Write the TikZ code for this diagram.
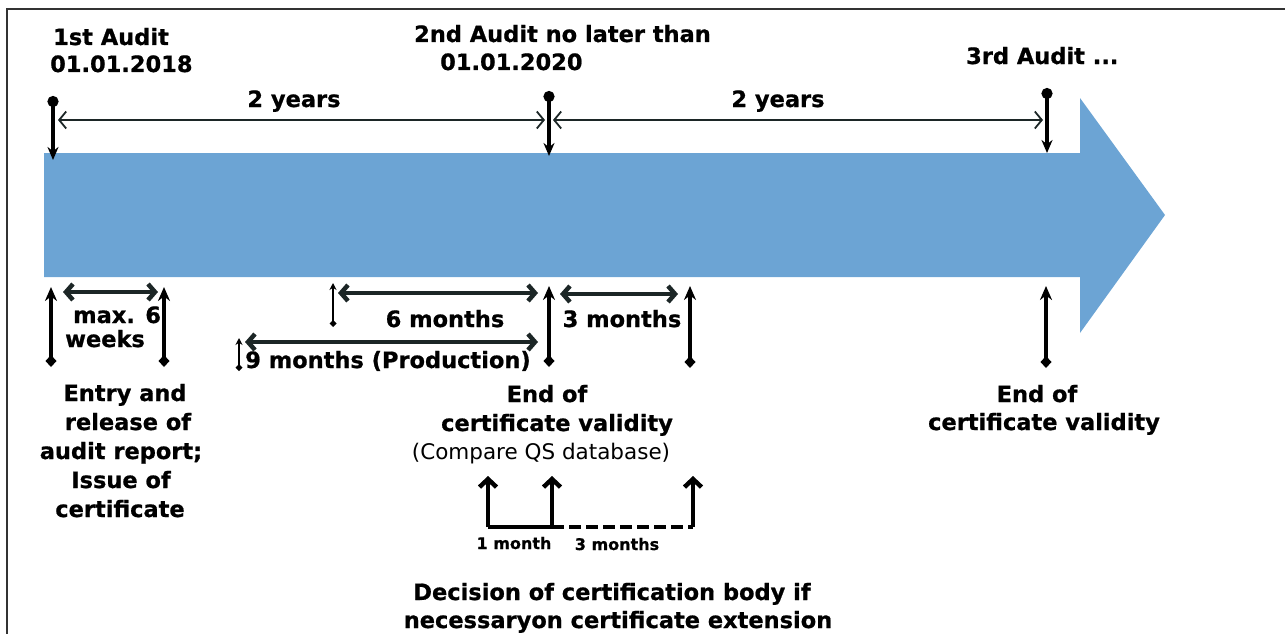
\documentclass[tikz,border=0pt]{standalone}
\usepackage{fontspec}
\setmainfont{DejaVu Sans}[BoldFeatures={FakeBold=0.8}]
\usetikzlibrary{arrows.meta}
\definecolor{bandblue}{RGB}{108,164,212}
\definecolor{darkink}{RGB}{28,38,38}
\begin{document}
\begin{tikzpicture}[x=1pt,y=-1pt,
  lbl/.style={font=\fontsize{22.5}{29}\selectfont\bfseries, inner sep=0pt},
  smalllbl/.style={font=\fontsize{16}{20}\selectfont\bfseries, inner sep=0pt},
  plainlbl/.style={font=\fontsize{21.5}{27}\selectfont, inner sep=0pt},
  marker/.style={line width=3.5pt, {Circle[length=11pt]}-{Stealth[length=13pt,width=11pt]}},
  tickmark/.style={line width=4pt, {Stealth[length=14pt,width=12pt]}-{Diamond[length=12pt,width=11pt]}},
  minitick/.style={line width=2.2pt, {Stealth[length=7pt,width=7pt]}-{Diamond[length=7pt,width=7pt]}},
  yearspan/.style={draw=darkink, line width=1.8pt, {Straight Barb[length=7pt,width=17pt]}-{Straight Barb[length=7pt,width=17pt]}},
  bispan/.style={draw=darkink, line width=4.5pt, {Straight Barb[length=7pt,width=16pt]}-{Straight Barb[length=7pt,width=16pt]}},
  uparrow/.style={line width=4.5pt, -{Straight Barb[length=8pt,width=17pt]}},
  bracket/.style={line width=4.5pt}
]
\useasboundingbox (0,0) rectangle (1285,634);
% frame
\draw[line width=1.6pt, black!80] (7,634) -- (7,9) -- (1285,9);

% big arrow band
\fill[bandblue] (44,153) -- (1080,153) -- (1080,98) -- (1165,215) -- (1080,333) -- (1080,277) -- (44,277) -- cycle;

% audit markers
\coordinate (m1t) at (53,96);   \coordinate (m1b) at (53,160);
\coordinate (m2t) at (549,91);  \coordinate (m2b) at (549,156);
\coordinate (m3t) at (1047,88); \coordinate (m3b) at (1047,153);
\draw[marker] (m1t) -- (m1b);
\draw[marker] (m2t) -- (m2b);
\draw[marker] (m3t) -- (m3b);

% 2 years spans
\coordinate (y1a) at (58,120);  \coordinate (y1b) at (545,120);
\coordinate (y2a) at (553,120); \coordinate (y2b) at (1043,120);
\draw[yearspan] (y1a) -- (y1b);
\draw[yearspan] (y2a) -- (y2b);

% ticks below
\coordinate (t1a) at (51,287);   \coordinate (t1b) at (51,367);
\coordinate (t2a) at (164,287);  \coordinate (t2b) at (164,367);
\coordinate (t3a) at (549,286);  \coordinate (t3b) at (549,367);
\coordinate (t4a) at (690,286);  \coordinate (t4b) at (690,368);
\coordinate (t5a) at (1046,286); \coordinate (t5b) at (1046,368);
\draw[tickmark] (t1a) -- (t1b);
\draw[tickmark] (t2a) -- (t2b);
\draw[tickmark] (t3a) -- (t3b);
\draw[tickmark] (t4a) -- (t4b);
\draw[tickmark] (t5a) -- (t5b);
\coordinate (s1a) at (333,283); \coordinate (s1b) at (333,327);
\coordinate (s2a) at (239,338); \coordinate (s2b) at (239,371);
\draw[minitick] (s1a) -- (s1b);
\draw[minitick] (s2a) -- (s2b);

% month spans
\coordinate (w6a) at (63,292);  \coordinate (w6b) at (158,292);
\coordinate (m6a) at (338,293); \coordinate (m6b) at (538,293);
\coordinate (m9a) at (245,342); \coordinate (m9b) at (538,342);
\coordinate (m3a) at (560,294); \coordinate (m3b) at (678,294);
\draw[bispan] (w6a) -- (w6b);
\draw[bispan] (m6a) -- (m6b);
\draw[bispan] (m9a) -- (m9b);
\draw[bispan] (m3a) -- (m3b);

% decision bracket
\coordinate (d1b) at (488,527); \coordinate (d1t) at (488,476);
\coordinate (d2b) at (552,527); \coordinate (d2t) at (552,476);
\coordinate (d3b) at (693,527); \coordinate (d3t) at (693,476);
\draw[uparrow] (d1b) -- (d1t);
\draw[uparrow] (d2b) -- (d2t);
\draw[uparrow] (d3b) -- (d3t);
\draw[bracket] (d1b) -- (d2b);
\draw[bracket, dash pattern=on 12pt off 5pt] (d2b) -- (d3b);

% top labels
\node[lbl, anchor=base west] (a1) at (53,45) {1st Audit};
\node[lbl, anchor=base west] (a1d) at (50,72) {01.01.2018};
\node[lbl, anchor=base west] (a2) at (414,42) {2nd Audit no later than};
\node[lbl, anchor=base west] (a2d) at (440,70) {01.01.2020};
\node[lbl, anchor=base west] (a3) at (966,64) {3rd Audit ...};
\node[lbl, anchor=base] (ly1) at (294,107) {2 years};
\node[lbl, anchor=base] (ly2) at (778,107) {2 years};

% span labels
\node[lbl, anchor=base west] (lw1) at (73,323) {max. 6};
\node[lbl, anchor=base west] (lw2) at (65,347) {weeks};
\node[lbl, anchor=base] (l6) at (445,327) {6 months};
\node[lbl, anchor=base] (l9) at (388,368) {9 months (Production)};
\node[lbl, anchor=base] (l3) at (622,327) {3 months};

% lower labels
\node[lbl, anchor=base] (e1) at (125,401) {Entry and};
\node[lbl, anchor=base] (e2) at (128,430) {release of};
\node[lbl, anchor=base] (e3) at (121,459) {audit report;};
\node[lbl, anchor=base] (e4) at (121,488) {Issue of};
\node[lbl, anchor=base] (e5) at (120,517) {certificate};

\node[lbl, anchor=base] (c1) at (547,402) {End of};
\node[lbl, anchor=base] (c2) at (557,431) {certificate validity};
\node[plainlbl, anchor=base] (c3) at (541,459) {(Compare QS database)};

\node[lbl, anchor=base] (r1) at (1037,402) {End of};
\node[lbl, anchor=base] (r2) at (1044,430) {certificate validity};

\node[smalllbl, anchor=base] (b1) at (514,549) {1 month};
\node[smalllbl, anchor=base] (b2) at (617,550) {3 months};

\node[lbl, anchor=base] (f1) at (612,600) {Decision of certification body if};
\node[lbl, anchor=base] (f2) at (618,628) {necessaryon certificate extension};
\end{tikzpicture}
\end{document}
